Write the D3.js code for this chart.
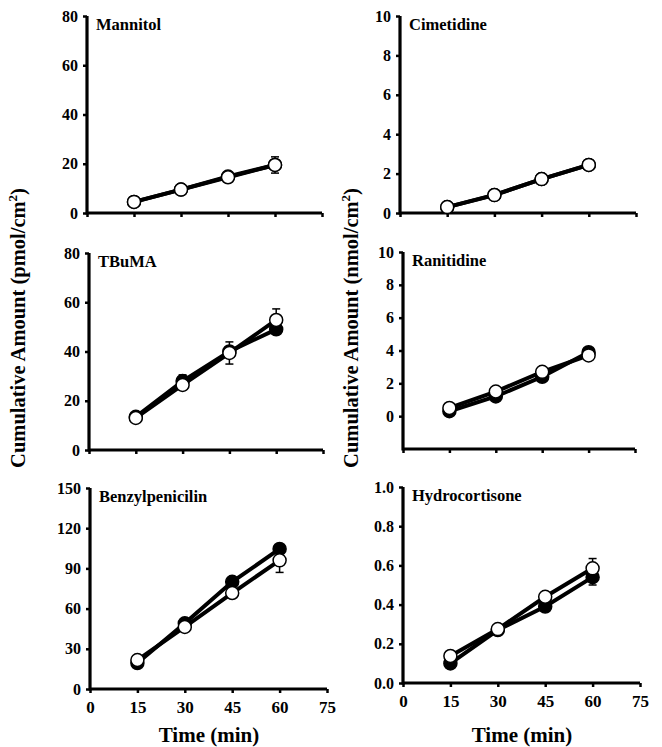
<!DOCTYPE html>
<html>
<head>
<meta charset="utf-8">
<script src="https://cdn.jsdelivr.net/npm/d3@7"></script>
<style>
	body { margin: 0; background: #fff; }
	svg { display: block; }
	text { font-family: 'Liberation Serif', 'Times New Roman', serif; font-weight: bold; fill: #000; }
</style>
</head>
<body>
<svg id="chart" width="662" height="747"></svg>
<script>
// data
const times = [15, 30, 45, 60]
const xTicks = [0, 15, 30, 45, 60, 75]

const drugs = ['Mannitol', 'Cimetidine', 'TBuMA', 'Ranitidine', 'Benzylpenicilin', 'Hydrocortisone']

const filledValues = [
	[4.5, 9.5, 14.8, 19.5],
	[0.3, 0.92, 1.72, 2.44],
	[13.5, 28, 40, 49],
	[0.3, 1.2, 2.4, 3.9],
	[19.4, 49, 80, 104.5],
	[0.10, 0.27, 0.39, 0.54]
]
const filledErrors = [
	[0.5, 0.6, 0.8, 1.0],
	[0.05, 0.06, 0.08, 0.1],
	[1.0, 2.5, 2.0, 2.0],
	[0.1, 0.1, 0.15, 0.2],
	[1.5, 2.0, 3.0, 3.0],
	[0.01, 0.01, 0.02, 0.04]
]
const openValues = [
	[4.5, 9.5, 14.5, 19.5],
	[0.3, 0.91, 1.72, 2.44],
	[13, 26.4, 39.4, 52.8],
	[0.5, 1.5, 2.7, 3.7],
	[21.6, 46.3, 71.6, 96],
	[0.138, 0.275, 0.44, 0.585]
]
const openErrors = [
	[0.5, 0.8, 1.0, 3.3],
	[0.05, 0.06, 0.08, 0.1],
	[1.0, 2.0, 4.5, 4.5],
	[0.1, 0.15, 0.15, 0.2],
	[1.5, 2.0, 3.0, 9],
	[0.01, 0.01, 0.02, 0.05]
]

const yDomains = [[0, 80], [0, 10], [0, 80], [-2, 10], [0, 150], [0, 1]]
const yTickValues = [
	[0, 20, 40, 60, 80],
	[0, 2, 4, 6, 8, 10],
	[0, 20, 40, 60, 80],
	[0, 2, 4, 6, 8, 10],
	[0, 30, 60, 90, 120, 150],
	[0, 0.2, 0.4, 0.6, 0.8, 1.0]
]
const yTickFormats = ['d', 'd', 'd', 'd', 'd', '.1f']

// panel plot areas [left, right, top, bottom]
const frames = [
	[87, 322, 16, 213],
	[400, 636, 16, 213],
	[89, 323, 253, 450],
	[403, 635, 252, 449],
	[90, 327, 488, 689],
	[403, 640, 487, 683]
]

const svg = d3.select('#chart')

drugs.forEach((name, i) => {
	const [left, right, top, bottom] = frames[i]
	const x = d3.scaleLinear().domain([0, 75]).range([left, right])
	const y = d3.scaleLinear().domain(yDomains[i]).range([bottom, top])
	const g = svg.append('g')
	const isBottom = i >= 4

	// axes
	const xAxis = g.append('g')
		.attr('transform', `translate(0,${bottom})`)
		.call(d3.axisBottom(x).tickValues(xTicks).tickSize(4).tickPadding(8)
			.tickFormat(isBottom ? d3.format('d') : () => ''))
	const yAxis = g.append('g')
		.attr('transform', `translate(${left},0)`)
		.call(d3.axisLeft(y).tickValues(yTickValues[i]).tickSize(4).tickPadding(5)
			.tickFormat(d3.format(yTickFormats[i])))
	yAxis.select('.domain').attr('d', `M0,${bottom + 1.5}V${top}`)
	xAxis.select('.domain').attr('d', `M${left},0H${right}`);
	[xAxis, yAxis].forEach((a) => {
		a.select('.domain').attr('stroke', '#000').attr('stroke-width', 3.2)
		a.selectAll('.tick line').attr('stroke', '#000').attr('stroke-width', 2.5)
		a.selectAll('text').style('font-size', '16px')
	})
	xAxis.selectAll('text').style('font-size', '17px')

	// title
	g.append('text')
		.attr('x', left + 9)
		.attr('y', top + 14)
		.style('font-size', '16.5px')
		.text(name)

	const series = [
		{ values: filledValues[i], errors: filledErrors[i], fill: '#000' },
		{ values: openValues[i], errors: openErrors[i], fill: '#fff' }
	]

	const line = d3.line().x((d, j) => x(times[j])).y((d) => y(d))

	series.forEach((s) => {
		// error bars
		const eb = g.append('g').selectAll('g')
			.data(s.values)
			.enter()
			.append('g')
		eb.append('line')
			.attr('x1', (d, j) => x(times[j]))
			.attr('x2', (d, j) => x(times[j]))
			.attr('y1', (d, j) => y(d - s.errors[j]))
			.attr('y2', (d, j) => y(d + s.errors[j]))
			.attr('stroke', '#000')
			.attr('stroke-width', 1.5)
		;[-1, 1].forEach((sign) => {
			eb.append('line')
				.attr('x1', (d, j) => x(times[j]) - 4)
				.attr('x2', (d, j) => x(times[j]) + 4)
				.attr('y1', (d, j) => y(d + sign * s.errors[j]))
				.attr('y2', (d, j) => y(d + sign * s.errors[j]))
				.attr('stroke', '#000')
				.attr('stroke-width', 1.5)
		})
	})

	series.forEach((s) => {
		g.append('path')
			.datum(s.values)
			.attr('d', line)
			.attr('fill', 'none')
			.attr('stroke', '#000')
			.attr('stroke-width', 4)
		g.append('g').selectAll('circle')
			.data(s.values)
			.enter()
			.append('circle')
			.attr('cx', (d, j) => x(times[j]))
			.attr('cy', (d) => y(d))
			.attr('r', 6.5)
			.attr('fill', s.fill)
			.attr('stroke', '#000')
			.attr('stroke-width', 1.5)
	})
})

// axis titles
const yTitles = [
	{ x: 25, unit: 'pmol' },
	{ x: 358, unit: 'nmol' }
]
yTitles.forEach((t) => {
	const txt = svg.append('text')
		.attr('transform', `translate(${t.x},328) rotate(-90)`)
		.attr('text-anchor', 'middle')
		.style('font-size', '20.5px')
	txt.append('tspan').text(`Cumulative Amount (${t.unit}/cm`)
	txt.append('tspan').attr('dy', -8).style('font-size', '13px').text('2')
	txt.append('tspan').attr('dy', 8).text(')')
})

const xTitleCenters = [209, 522]
xTitleCenters.forEach((cx) => {
	svg.append('text')
		.attr('x', cx)
		.attr('y', 742)
		.attr('text-anchor', 'middle')
		.style('font-size', '21px')
		.text('Time (min)')
})
</script>
</body>
</html>
